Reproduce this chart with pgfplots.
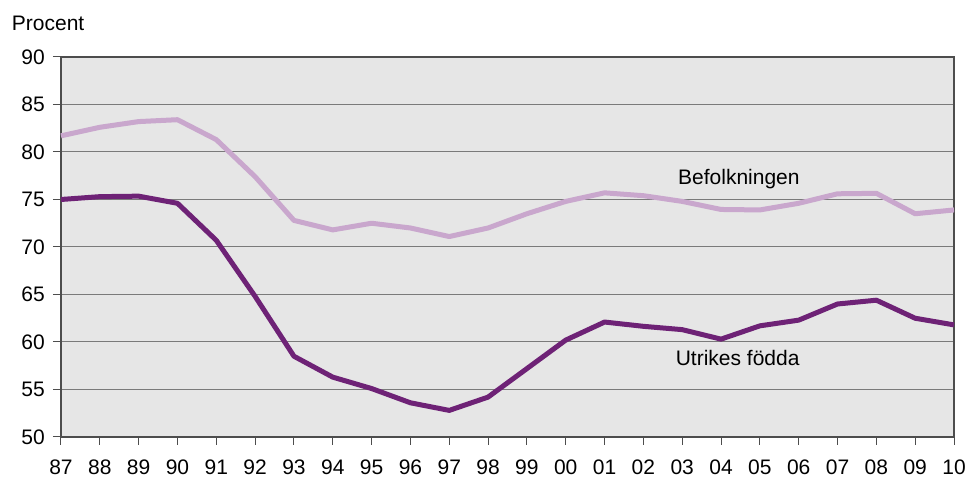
\documentclass[border=0pt]{standalone}
\usepackage{fontspec}
\setmainfont{Liberation Sans}
\usepackage{pgfplots}
\pgfplotsset{compat=1.18}
\definecolor{bg}{HTML}{E6E6E6}
\definecolor{lightp}{HTML}{C9A7CD}
\definecolor{darkp}{HTML}{6E2276}
\definecolor{gridc}{HTML}{7A7A7A}
\definecolor{axc}{HTML}{4D4D4D}
\begin{document}
\fontsize{21}{25}\selectfont
\begin{tikzpicture}[x=1pt,y=1pt]
\useasboundingbox (-61,-41) rectangle (906,437);
\begin{axis}[
  at={(0,0)}, anchor=south west,
  scale only axis, width=893pt, height=380pt,
  xmin=0, xmax=23, ymin=50, ymax=90,
  ytick={50,55,...,90},
  xtick={0,...,23},
  xticklabels={87,88,89,90,91,92,93,94,95,96,97,98,99,00,01,02,03,04,05,06,07,08,09,10},
  /pgf/number format/assume math mode=true,
  tick label style={font=\fontsize{21}{25}\selectfont, inner sep=0pt},
  tick align=outside,
  major tick length=8pt,
  tick style={axc, line width=1pt},
  xtick pos=bottom, ytick pos=left,
  xticklabel shift=15pt,
  yticklabel shift=8pt,
  ymajorgrids,
  grid style={gridc, line width=1pt},
  axis line style={axc, line width=1.2pt},
  axis background/.style={fill=bg},
  clip=false,
]
\addplot[lightp, line width=5pt, line join=round] coordinates {
(0,81.7)(1,82.6)(2,83.2)(3,83.4)(4,81.3)(5,77.4)(6,72.8)(7,71.8)(8,72.5)(9,72.0)(10,71.1)(11,72.0)(12,73.5)(13,74.8)(14,75.7)(15,75.4)(16,74.8)(17,73.95)(18,73.9)(19,74.6)(20,75.6)(21,75.65)(22,73.5)(23,73.9)
};
\addplot[darkp, line width=5pt, line join=round] coordinates {
(0,75.0)(1,75.3)(2,75.35)(3,74.6)(4,70.7)(5,64.8)(6,58.5)(7,56.3)(8,55.1)(9,53.6)(10,52.8)(11,54.2)(12,57.2)(13,60.2)(14,62.1)(15,61.65)(16,61.3)(17,60.3)(18,61.7)(19,62.3)(20,64.0)(21,64.4)(22,62.5)(23,61.8)
};
\node[anchor=west, inner sep=0pt] at (axis cs:15.89,77.2) {Befolkningen};
\node[anchor=west, inner sep=0pt] at (axis cs:15.83,58.3) {Utrikes födda};
\end{axis}
\node[anchor=base west, inner sep=0pt] at (-49.3,406) {Procent};
\end{tikzpicture}
\end{document}
